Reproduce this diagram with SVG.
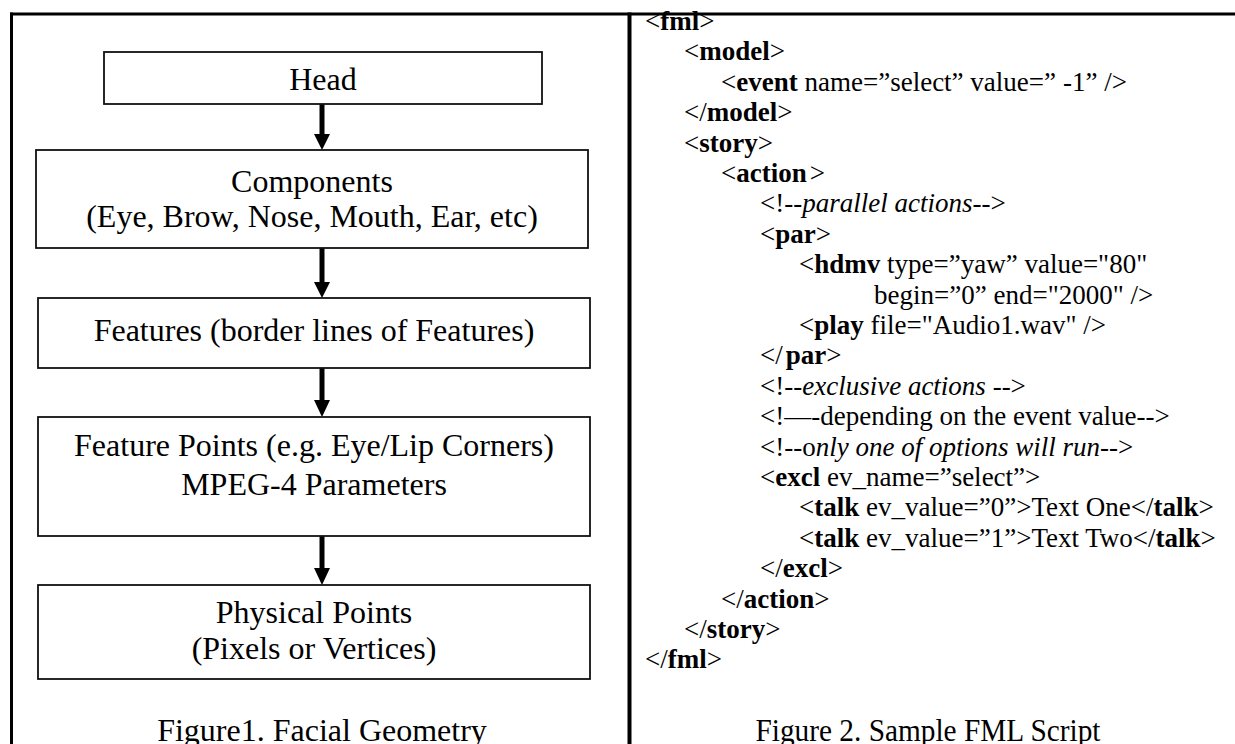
<svg xmlns="http://www.w3.org/2000/svg" width="1235" height="744" viewBox="0 0 1235 744">
<defs>
<style>
.frame{stroke:#000;stroke-width:3;fill:none}
.box{fill:#fff;stroke:#111;stroke-width:1.8}
.lbl{font-family:"Liberation Serif","Times New Roman",serif;font-size:32px;fill:#000;text-anchor:middle}
.cap2{font-size:31px}
.code{font-family:"Liberation Serif","Times New Roman",serif;font-size:27px;fill:#000}
.b{font-weight:bold}
.i{font-style:italic}
.shaft{stroke:#000;stroke-width:5}
.head{fill:#000}
</style>
</defs>
<rect width="1235" height="744" fill="#fff"/>
<g id="frame">
<line class="frame" x1="10" y1="14" x2="1235" y2="14"/>
<line class="frame" x1="11.5" y1="12.5" x2="11.5" y2="744"/>
<line class="frame" x1="629.5" y1="12.5" x2="629.5" y2="744" style="stroke-width:4"/>
</g>
<g id="connectors">
<line class="shaft" x1="322" y1="104" x2="322" y2="134"/>
<path class="head" d="M314,134 L330,134 L322,150 Z"/>
<line class="shaft" x1="322" y1="248" x2="322" y2="282"/>
<path class="head" d="M314,282 L330,282 L322,298 Z"/>
<line class="shaft" x1="322" y1="368" x2="322" y2="400"/>
<path class="head" d="M314,400 L330,400 L322,417 Z"/>
<line class="shaft" x1="322" y1="536" x2="322" y2="568"/>
<path class="head" d="M314,568 L330,568 L322,585 Z"/>
</g>
<g id="head">
<rect class="box" x="104" y="52" width="438" height="52"/>
<text class="lbl" x="323" y="90">Head</text>
</g>
<g id="components">
<rect class="box" x="36" y="150" width="552" height="98"/>
<text class="lbl" x="312" y="192">Components</text>
<text class="lbl" x="312" y="227">(Eye, Brow, Nose, Mouth, Ear, etc)</text>
</g>
<g id="features">
<rect class="box" x="38" y="298" width="552" height="70"/>
<text class="lbl" x="314" y="341">Features (border lines of Features)</text>
</g>
<g id="feature-points">
<rect class="box" x="38" y="417" width="552" height="119"/>
<text class="lbl" x="314" y="456">Feature Points (e.g. Eye/Lip Corners)</text>
<text class="lbl" x="314" y="495">MPEG-4 Parameters</text>
</g>
<g id="physical-points">
<rect class="box" x="38" y="585" width="552" height="94"/>
<text class="lbl" x="314" y="623">Physical Points</text>
<text class="lbl" x="314" y="659">(Pixels or Vertices)</text>
</g>
<g id="caption1">
<text class="lbl" x="322" y="741">Figure1. Facial Geometry</text>
</g>
<g id="fml-script">
<text class="code" x="645" y="30">&lt;<tspan class="b">fml</tspan>&gt;</text>
<text class="code" x="684" y="60.4">&lt;<tspan class="b">model</tspan>&gt;</text>
<text class="code" x="721" y="90.8">&lt;<tspan class="b">event</tspan> name=”select” value=”<tspan dx="7">-1”</tspan> /&gt;</text>
<text class="code" x="684" y="121.2">&lt;/<tspan class="b">model</tspan>&gt;</text>
<text class="code" x="684" y="151.6">&lt;<tspan class="b">story</tspan>&gt;</text>
<text class="code" x="721" y="182">&lt;<tspan class="b">action</tspan><tspan dx="3">&gt;</tspan></text>
<text class="code" x="760" y="212.4">&lt;!--<tspan class="i">parallel actions</tspan>--&gt;</text>
<text class="code" x="760" y="242.8">&lt;<tspan class="b">par</tspan>&gt;</text>
<text class="code" x="799" y="273.2">&lt;<tspan class="b">hdmv</tspan> type=”yaw” value="80"</text>
<text class="code" x="874" y="303.6">begin=”0” end="2000" /&gt;</text>
<text class="code" x="799" y="334">&lt;<tspan class="b">play</tspan> file="Audio1.wav" /&gt;</text>
<text class="code" x="760" y="364.4">&lt;/<tspan class="b" dx="3">par</tspan>&gt;</text>
<text class="code" x="760" y="394.8">&lt;!--<tspan class="i">exclusive actions</tspan> --&gt;</text>
<text class="code" x="760" y="425.2">&lt;!—-depending on the event value--&gt;</text>
<text class="code" x="760" y="455.6">&lt;!--o<tspan class="i">nly one of options will run</tspan>--&gt;</text>
<text class="code" x="760" y="486">&lt;<tspan class="b">excl</tspan> ev_name=”select”&gt;</text>
<text class="code" x="799" y="516.4">&lt;<tspan class="b">talk</tspan> ev_value=”0”&gt;Text One&lt;/<tspan class="b">talk</tspan>&gt;</text>
<text class="code" x="799" y="546.8">&lt;<tspan class="b">talk</tspan> ev_value=”1”&gt;Text Two&lt;/<tspan class="b">talk</tspan>&gt;</text>
<text class="code" x="760" y="577.2">&lt;/<tspan class="b">excl</tspan>&gt;</text>
<text class="code" x="721" y="607.6">&lt;/<tspan class="b">action</tspan>&gt;</text>
<text class="code" x="684" y="638">&lt;/<tspan class="b">story</tspan>&gt;</text>
<text class="code" x="645" y="668.4">&lt;/<tspan class="b">fml</tspan>&gt;</text>
</g>
<g id="caption2">
<text class="lbl cap2" x="928" y="741" textLength="345" lengthAdjust="spacingAndGlyphs">Figure 2. Sample FML Script</text>
</g>
</svg>
